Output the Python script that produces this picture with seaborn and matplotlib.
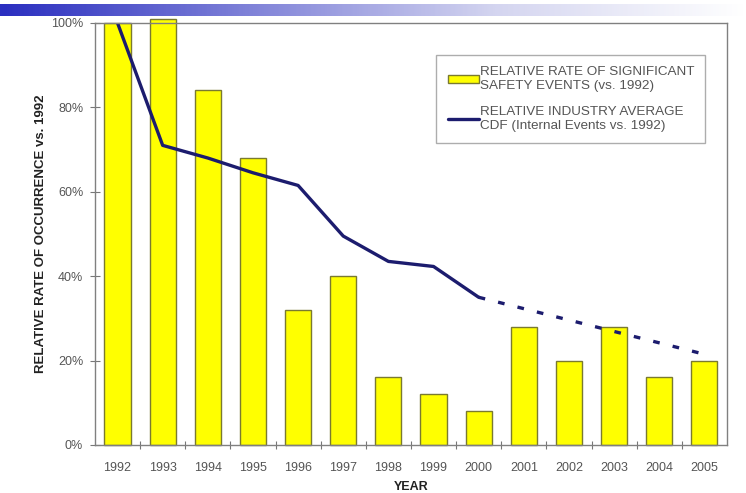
import numpy as np
import pandas as pd
import matplotlib
matplotlib.use("Agg")
import matplotlib.pyplot as plt
from matplotlib.ticker import FixedLocator, PercentFormatter
from matplotlib.colors import LinearSegmentedColormap
import seaborn as sns

years = ["1992", "1993", "1994", "1995", "1996", "1997", "1998",
         "1999", "2000", "2001", "2002", "2003", "2004", "2005"]
event_rate = [100, 101, 84, 68, 32, 40, 16, 12, 8, 28, 20, 28, 16, 20]
cdf_years = ["1992", "1993", "1994", "1995", "1996", "1997", "1998", "1999", "2000"]
cdf_rate = [100, 71, 68, 64.5, 61.5, 49.5, 43.5, 42.3, 35]
trend_years = ["2000", "2005"]
trend_rate = [35, 21.5]
y_ticks = [0, 20, 40, 60, 80, 100]

sns.set_theme(style="white")
plt.rcParams["font.family"] = ["Liberation Sans", "DejaVu Sans"]

fig = plt.figure(figsize=(7.46, 4.93), dpi=100)

# gradient banner across the top
band = fig.add_axes([0.0, 0.968, 1.0, 0.024])
grad = np.linspace(0, 1, 400)[None, :]
cmap = LinearSegmentedColormap.from_list("band", ["#2b2fc0", "#7f82d8", "#d4d5f0", "#ffffff"])
band.imshow(grad, aspect="auto", cmap=cmap, extent=[0, 1, 0, 1])
band.set_axis_off()

ax = fig.add_axes([0.1273, 0.0974, 0.8472, 0.856])

df = pd.DataFrame({"year": years, "rate": event_rate})
sns.barplot(data=df, x="year", y="rate", ax=ax, color="#ffff00",
            saturation=1, width=0.58, edgecolor="#7a7a30", linewidth=1.0,
            label="RELATIVE RATE OF SIGNIFICANT\nSAFETY EVENTS (vs. 1992)")
for p in ax.patches:
    p.set_clip_on(False)

pos = {y: i for i, y in enumerate(years)}
line_color = "#1c1c6e"
sns.lineplot(x=[pos[y] for y in cdf_years], y=cdf_rate, ax=ax, color=line_color,
             linewidth=2.4, label="RELATIVE INDUSTRY AVERAGE\nCDF (Internal Events vs. 1992)")
sns.lineplot(x=[pos[y] for y in trend_years], y=trend_rate, ax=ax, color=line_color,
             linewidth=2.4, linestyle=(0, (2.0, 4.0)), label="_nolegend_")

ax.set_xlim(-0.5, len(years) - 0.5)
ax.set_ylim(0, 100)
ax.set_yticks(y_ticks)
ax.yaxis.set_major_formatter(PercentFormatter(decimals=0))
ax.xaxis.set_minor_locator(FixedLocator(np.arange(0.5, len(years) - 0.5, 1)))
ax.tick_params(axis="x", which="major", length=0, pad=12, labelsize=9, labelcolor="#555555")
ax.tick_params(axis="x", which="minor", length=6, direction="inout", color="#777777", width=0.8, bottom=True)
ax.tick_params(axis="y", which="major", length=7, direction="inout", color="#777777", width=0.8,
               left=True, pad=5, labelsize=9, labelcolor="#555555")

for s in ax.spines.values():
    s.set_color("#808080")
    s.set_linewidth(1.0)
    s.set_visible(True)

ax.set_xlabel("YEAR", fontsize=9, fontweight="bold", color="#222222", labelpad=5)
ax.set_ylabel("RELATIVE RATE OF OCCURRENCE vs. 1992", fontsize=9.5, fontweight="bold",
              color="#222222", labelpad=3)

handles, labels = ax.get_legend_handles_labels()
order = [labels.index(l) for l in labels if l.startswith("RELATIVE RATE")] + \
        [labels.index(l) for l in labels if l.startswith("RELATIVE INDUSTRY")]
leg = ax.legend([handles[i] for i in order], [labels[i] for i in order],
                loc="upper right", bbox_to_anchor=(0.966, 0.925), fontsize=9.7,
                frameon=True, fancybox=False, edgecolor="#999999", handlelength=2.3,
                handleheight=0.5, handletextpad=0.05, borderpad=0.85, labelspacing=1.05,
                borderaxespad=0)
for t in leg.get_texts():
    t.set_color("#555555")
leg.get_frame().set_linewidth(1.0)

fig.savefig("out.png", dpi=100)
